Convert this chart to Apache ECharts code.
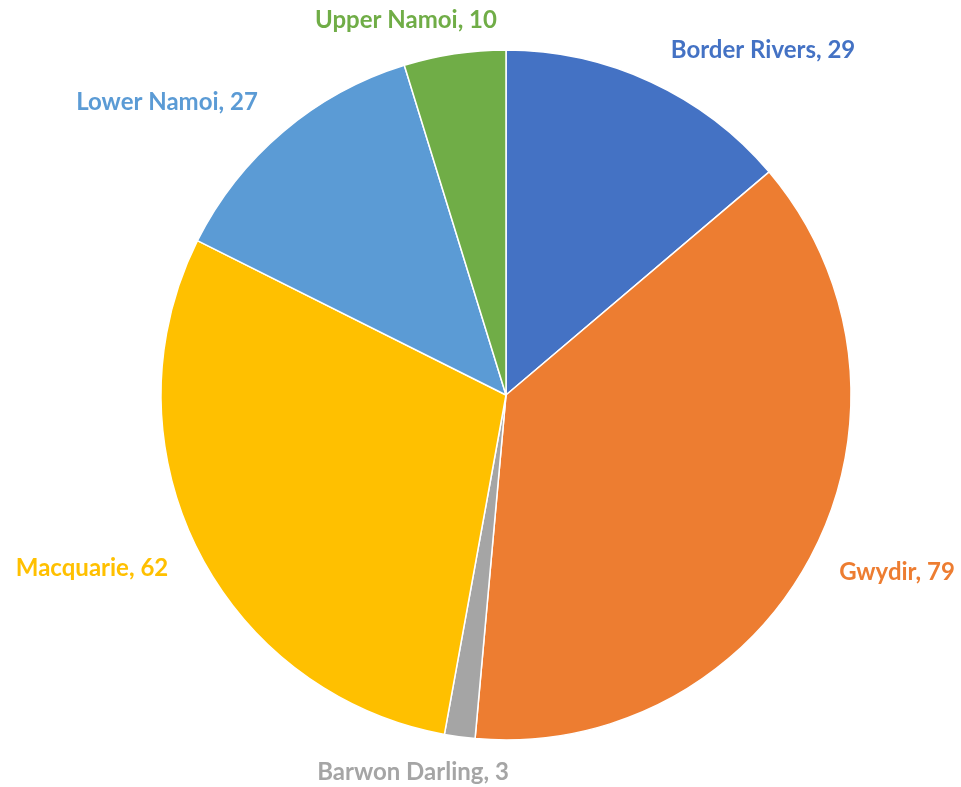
<!DOCTYPE html>
<html>
<head>
<meta charset="utf-8">
<script src="https://cdn.jsdelivr.net/npm/echarts@6/dist/echarts.min.js"></script>
<style>
html,body{margin:0;padding:0;background:#fff;}
#chart{width:961px;height:787px;}
</style>
</head>
<body>
<div id="chart"></div>
<script>
const categories = ['Border Rivers', 'Gwydir', 'Barwon Darling', 'Macquarie', 'Lower Namoi', 'Upper Namoi'];
const values = [29, 79, 3, 62, 27, 10];
const colors = ['#4472C4', '#ED7D31', '#A5A5A5', '#FFC000', '#5B9BD5', '#70AD47'];

// label anchor positions (layout only, matching the reference placement)
const labelPos = [[763, 50], [897, 572], [413, 772], [92, 568], [167, 102], [406, 20]];

const chart = echarts.init(document.getElementById('chart'));
const data = categories.map((c, i) => ({
  name: c,
  value: values[i],
  itemStyle: { color: colors[i] },
  label: { color: colors[i] }
}));

chart.setOption({
  animation: false,
  backgroundColor: '#ffffff',
  series: [{
    type: 'pie',
    center: [506, 395],
    radius: [0, 345],
    startAngle: 90,
    clockwise: true,
    avoidLabelOverlap: false,
    data: data,
    itemStyle: { borderColor: '#ffffff', borderWidth: 1.5 },
    label: {
      show: true,
      position: 'outside',
      formatter: '{b}, {c}',
      fontFamily: 'Lato, "Liberation Sans", sans-serif',
      fontWeight: 'bold',
      fontSize: 24
    },
    labelLine: { show: false, length: 20, length2: 10 },
    labelLayout: function (params) {
      const p = labelPos[params.dataIndex];
      return { x: p[0], y: p[1], align: 'center', verticalAlign: 'middle' };
    }
  }]
});
</script>
</body>
</html>
